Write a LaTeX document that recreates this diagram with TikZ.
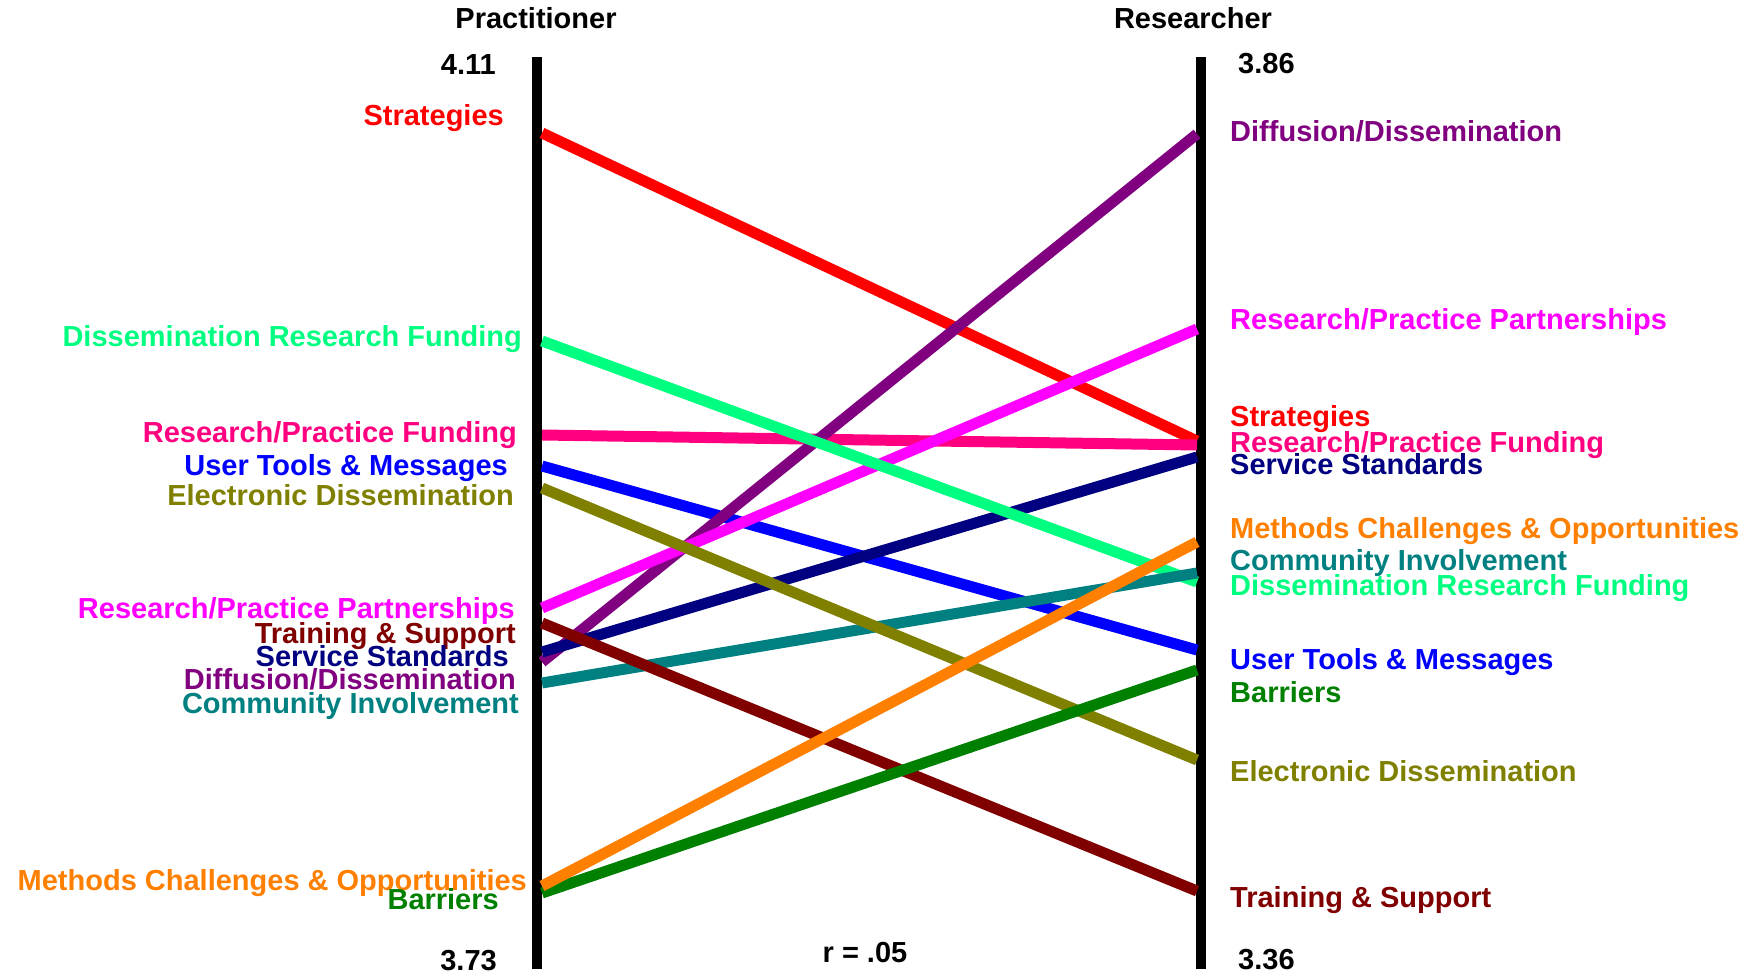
\documentclass[tikz,border=0pt]{standalone}
\usepackage{fontspec}
\setmainfont{Liberation Sans}
\definecolor{cStr}{HTML}{FF0000}
\definecolor{cDRF}{HTML}{00FF80}
\definecolor{cRPF}{HTML}{FF0080}
\definecolor{cUTM}{HTML}{0000FF}
\definecolor{cED}{HTML}{808000}
\definecolor{cRPP}{HTML}{FF00FF}
\definecolor{cTS}{HTML}{800000}
\definecolor{cSS}{HTML}{000080}
\definecolor{cDD}{HTML}{800080}
\definecolor{cCI}{HTML}{008080}
\definecolor{cMCO}{HTML}{FF8000}
\definecolor{cBar}{HTML}{008000}
\begin{document}
\begin{tikzpicture}[x=1pt,y=-1pt,
  lbl/.style={font=\fontsize{29}{34}\selectfont\bfseries, inner sep=0pt},
  leftlbl/.style={lbl, anchor=base east},
  rightlbl/.style={lbl, anchor=base west},
  axisline/.style={line width=10.5pt, black},
  dataline/.style={line width=11pt, line cap=butt}]
\useasboundingbox (0,0) rectangle (1750,973);

% axes
\coordinate (LT) at (537,57);
\coordinate (LB) at (537,969);
\coordinate (RT) at (1201,57);
\coordinate (RB) at (1201,969);
\draw[axisline] (LT) -- (LB);
\draw[axisline] (RT) -- (RB);

% headers and scale numbers
\node[lbl, anchor=base] (hP) at (536,29) {Practitioner};
\node[lbl, anchor=base] (hR) at (1193,29) {Researcher};
\node[leftlbl] (lmax) at (496,75) {4.11};
\node[leftlbl] (lmin) at (497,970) {3.73};
\node[rightlbl] (rmax) at (1238,74) {3.86};
\node[rightlbl] (rmin) at (1238,969) {3.36};
\node[lbl, anchor=base] (corr) at (865,962) {r = .05};

% endpoints
\coordinate (Lstr) at (542,133);  \coordinate (Rstr) at (1197,441);
\coordinate (Ldrf) at (542,341);  \coordinate (Rdrf) at (1197,582);
\coordinate (Lrpf) at (542,435);  \coordinate (Rrpf) at (1197,445);
\coordinate (Lutm) at (542,466);  \coordinate (Rutm) at (1197,650);
\coordinate (Led)  at (542,488);  \coordinate (Red)  at (1197,760);
\coordinate (Lrpp) at (542,608);  \coordinate (Rrpp) at (1197,329);
\coordinate (Lts)  at (542,623);  \coordinate (Rts)  at (1197,891);
\coordinate (Lss)  at (542,652);  \coordinate (Rss)  at (1197,457);
\coordinate (Ldd)  at (542,662);  \coordinate (Rdd)  at (1197,134);
\coordinate (Lci)  at (542,683);  \coordinate (Rci)  at (1197,573);
\coordinate (Lmco) at (542,886);  \coordinate (Rmco) at (1197,542);
\coordinate (Lbar) at (542,893);  \coordinate (Rbar) at (1197,670);

% data lines (bottom to top)
\draw[dataline, cStr] (Lstr) -- (Rstr);
\draw[dataline, cRPF] (Lrpf) -- (Rrpf);
\draw[dataline, cUTM] (Lutm) -- (Rutm);
\draw[dataline, cDD]  (Ldd) -- (Rdd);
\draw[dataline, cSS]  (Lss) -- (Rss);
\draw[dataline, cRPP] (Lrpp) -- (Rrpp);
\draw[dataline, cDRF] (Ldrf) -- (Rdrf);
\draw[dataline, cCI]  (Lci) -- (Rci);
\draw[dataline, cED]  (Led) -- (Red);
\draw[dataline, cTS]  (Lts) -- (Rts);
\draw[dataline, cBar] (Lbar) -- (Rbar);
\draw[dataline, cMCO] (Lmco) -- (Rmco);

% left labels
\node[leftlbl, cStr] (tLstr) at (504,126) {Strategies};
\node[leftlbl, cDRF] (tLdrf) at (522,347) {Dissemination Research Funding};
\node[leftlbl, cRPF] (tLrpf) at (517,442) {Research/Practice Funding};
\node[leftlbl, cUTM] (tLutm) at (508,475) {User Tools \& Messages};
\node[leftlbl, cED]  (tLed)  at (514,505) {Electronic Dissemination};
\node[leftlbl, cRPP] (tLrpp) at (515,618) {Research/Practice Partnerships};
\node[leftlbl, cTS]  (tLts)  at (516,643) {Training \& Support};
\node[leftlbl, cSS]  (tLss)  at (509,666) {Service Standards};
\node[leftlbl, cDD]  (tLdd)  at (516,689) {Diffusion/Dissemination};
\node[leftlbl, cCI]  (tLci)  at (519,713) {Community Involvement};
\node[leftlbl, cMCO] (tLmco) at (527,890) {Methods Challenges \& Opportunities};
\node[leftlbl, cBar] (tLbar) at (499,909) {Barriers};

% right labels
\node[rightlbl, cDD]  (tRdd)  at (1230,142) {Diffusion/Dissemination};
\node[rightlbl, cRPP] (tRrpp) at (1230,330) {Research/Practice Partnerships};
\node[rightlbl, cStr] (tRstr) at (1230,426) {Strategies};
\node[rightlbl, cRPF] (tRrpf) at (1230,452) {Research/Practice Funding};
\node[rightlbl, cSS]  (tRss)  at (1230,474) {Service Standards};
\node[rightlbl, cMCO] (tRmco) at (1230,538) {Methods Challenges \& Opportunities};
\node[rightlbl, cCI]  (tRci)  at (1230,570) {Community Involvement};
\node[rightlbl, cDRF] (tRdrf) at (1230,595) {Dissemination Research Funding};
\node[rightlbl, cUTM] (tRutm) at (1230,669) {User Tools \& Messages};
\node[rightlbl, cBar] (tRbar) at (1230,702) {Barriers};
\node[rightlbl, cED]  (tRed)  at (1230,781) {Electronic Dissemination};
\node[rightlbl, cTS]  (tRts)  at (1230,907) {Training \& Support};
\end{tikzpicture}
\end{document}
